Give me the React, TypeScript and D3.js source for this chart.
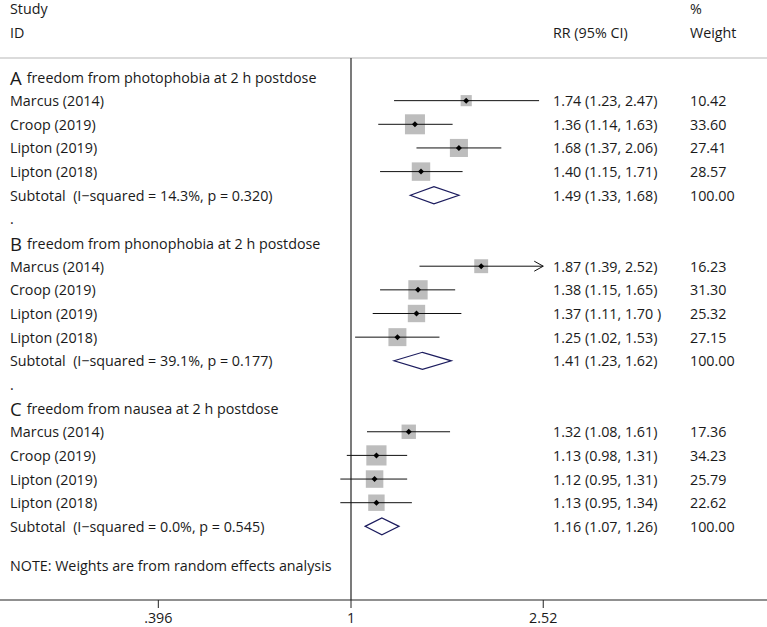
import React from "react";
import * as d3 from "d3";

const W = 767;
const H = 627;

const sections = ["A", "B", "C"];
const sectionTitles = [
  "freedom from photophobia at 2 h postdose",
  "freedom from phonophobia at 2 h postdose",
  "freedom from nausea at 2 h postdose",
];
const studyNames = ["Marcus (2014)", "Croop (2019)", "Lipton (2019)", "Lipton (2018)"];

const rrA = [1.74, 1.36, 1.68, 1.40];
const loA = [1.23, 1.14, 1.37, 1.15];
const hiA = [2.47, 1.63, 2.06, 1.71];
const wA = [10.42, 33.6, 27.41, 28.57];
const rrLabelsA = ["1.74 (1.23, 2.47)", "1.36 (1.14, 1.63)", "1.68 (1.37, 2.06)", "1.40 (1.15, 1.71)"];
const wLabelsA = ["10.42", "33.60", "27.41", "28.57"];

const rrB = [1.87, 1.38, 1.37, 1.25];
const loB = [1.39, 1.15, 1.11, 1.02];
const hiB = [2.52, 1.65, 1.70, 1.53];
const wB = [16.23, 31.3, 25.32, 27.15];
const rrLabelsB = ["1.87 (1.39, 2.52)", "1.38 (1.15, 1.65)", "1.37 (1.11, 1.70 )", "1.25 (1.02, 1.53)"];
const wLabelsB = ["16.23", "31.30", "25.32", "27.15"];

const rrC = [1.32, 1.13, 1.12, 1.13];
const loC = [1.08, 0.98, 0.95, 0.95];
const hiC = [1.61, 1.31, 1.31, 1.34];
const wC = [17.36, 34.23, 25.79, 22.62];
const rrLabelsC = ["1.32 (1.08, 1.61)", "1.13 (0.98, 1.31)", "1.12 (0.95, 1.31)", "1.13 (0.95, 1.34)"];
const wLabelsC = ["17.36", "34.23", "25.79", "22.62"];

const subRR = [1.49, 1.41, 1.16];
const subLo = [1.33, 1.23, 1.07];
const subHi = [1.68, 1.62, 1.26];
const subLabels = [
  "Subtotal  (I\u2212squared = 14.3%, p = 0.320)",
  "Subtotal  (I\u2212squared = 39.1%, p = 0.177)",
  "Subtotal  (I\u2212squared = 0.0%, p = 0.545)",
];
const subRRLabels = ["1.49 (1.33, 1.68)", "1.41 (1.23, 1.62)", "1.16 (1.07, 1.26)"];

const tickValues = [0.396, 1, 2.52];
const tickLabels = [".396", "1", "2.52"];

const rr = [rrA, rrB, rrC];
const lo = [loA, loB, loC];
const hi = [hiA, hiB, hiC];
const wt = [wA, wB, wC];
const rrLabels = [rrLabelsA, rrLabelsB, rrLabelsC];
const wLabels = [wLabelsA, wLabelsB, wLabelsC];

const FONT = "'Open Sans', Lato, sans-serif";
const TEXT = "#1a1a1a";

export default function App() {
  const pxPerLn = 208;
  const x = d3
    .scaleLog()
    .domain([0.396, 2.52])
    .range([351 + Math.log(0.396) * pxPerLn, 351 + Math.log(2.52) * pxPerLn]);
  const y = d3.scaleLinear().domain([0, 1]).range([77, 77 + 23.65]);
  const boxSide = (w: number) => 3.45 * Math.sqrt(w);
  const axisY = 600;
  const colRR = 553;
  const colW = 690;
  const fs = 14.3;

  const els: React.ReactNode[] = [];
  sections.forEach((s, si) => {
    const base = si * 7;
    els.push(
      <text key={`h${si}`} x={10} y={y(base)} dominantBaseline="central" fontFamily={FONT} fill={TEXT}>
        <tspan fontSize={18.5}>{s}</tspan>
        <tspan fontSize={fs} dx={5}>{sectionTitles[si]}</tspan>
      </text>
    );
    studyNames.forEach((n, i) => {
      const yy = y(base + 1 + i);
      const side = boxSide(wt[si][i]);
      const cx = x(rr[si][i]);
      const x1 = x(lo[si][i]);
      const x2 = x(Math.min(hi[si][i], 2.52));
      const arrow = hi[si][i] >= 2.52;
      els.push(
        <g key={`s${si}-${i}`}>
          <text x={10} y={yy} dominantBaseline="central" fontSize={fs} fontFamily={FONT} fill={TEXT}>{n}</text>
          <rect x={cx - side / 2} y={yy - side / 2} width={side} height={side} fill="#bdbdbd" />
          <line x1={x1} x2={x2} y1={yy} y2={yy} stroke="#111" strokeWidth={1} />
          {arrow && (
            <path d={`M${x2 - 9},${yy - 5}L${x2},${yy}L${x2 - 9},${yy + 5}`} fill="none" stroke="#111" strokeWidth={1} />
          )}
          <path d={`M${cx - 3},${yy}L${cx},${yy - 3}L${cx + 3},${yy}L${cx},${yy + 3}Z`} fill="#000" />
          <text x={colRR} y={yy} dominantBaseline="central" fontSize={fs} fontFamily={FONT} fill={TEXT}>{rrLabels[si][i]}</text>
          <text x={colW} y={yy} dominantBaseline="central" fontSize={fs} fontFamily={FONT} fill={TEXT}>{wLabels[si][i]}</text>
        </g>
      );
    });
    const sy = y(base + 5);
    const dh = 8.5;
    els.push(
      <g key={`sub${si}`}>
        <text x={10} y={sy} dominantBaseline="central" fontSize={fs} fontFamily={FONT} fill={TEXT} style={{ whiteSpace: "pre" }}>{subLabels[si]}</text>
        <path
          d={`M${x(subLo[si])},${sy}L${x(subRR[si])},${sy - dh}L${x(subHi[si])},${sy}L${x(subRR[si])},${sy + dh}Z`}
          fill="none"
          stroke="#1c1c5e"
          strokeWidth={1.2}
        />
        <text x={colRR} y={sy} dominantBaseline="central" fontSize={fs} fontFamily={FONT} fill={TEXT}>{subRRLabels[si]}</text>
        <text x={colW} y={sy} dominantBaseline="central" fontSize={fs} fontFamily={FONT} fill={TEXT}>100.00</text>
      </g>
    );
    if (si < 2) {
      els.push(
        <text key={`dot${si}`} x={10} y={y(base + 6)} dominantBaseline="central" fontSize={fs} fontFamily={FONT} fill={TEXT}>.</text>
      );
    }
  });

  return (
    <svg width={W} height={H} style={{ position: "absolute", left: 0, top: 0, background: "#fff" }}>
      <rect width={W} height={H} fill="#fff" />
      <text x={10} y={8} dominantBaseline="central" fontSize={fs} fontFamily={FONT} fill={TEXT}>Study</text>
      <text x={10} y={32} dominantBaseline="central" fontSize={fs} fontFamily={FONT} fill={TEXT}>ID</text>
      <text x={colRR} y={32} dominantBaseline="central" fontSize={fs} fontFamily={FONT} fill={TEXT}>RR (95% CI)</text>
      <text x={colW} y={8} dominantBaseline="central" fontSize={fs} fontFamily={FONT} fill={TEXT}>%</text>
      <text x={colW} y={32} dominantBaseline="central" fontSize={fs} fontFamily={FONT} fill={TEXT}>Weight</text>
      <line x1={0} x2={W} y1={58} y2={58} stroke="#cfcfcf" strokeWidth={1.5} />
      <line x1={x(1)} x2={x(1)} y1={58} y2={axisY} stroke="#222" strokeWidth={1.2} />
      {els}
      <text x={10} y={565} dominantBaseline="central" fontSize={fs} fontFamily={FONT} fill={TEXT}>NOTE: Weights are from random effects analysis</text>
      <line x1={0} x2={W} y1={axisY} y2={axisY} stroke="#222" strokeWidth={1.2} />
      {tickValues.map((t, i) => (
        <g key={`t${i}`}>
          <line x1={x(t)} x2={x(t)} y1={axisY} y2={axisY + 8} stroke="#222" strokeWidth={1} />
          <text x={x(t)} y={617} textAnchor="middle" dominantBaseline="central" fontSize={fs} fontFamily={FONT} fill={TEXT}>{tickLabels[i]}</text>
        </g>
      ))}
    </svg>
  );
}
